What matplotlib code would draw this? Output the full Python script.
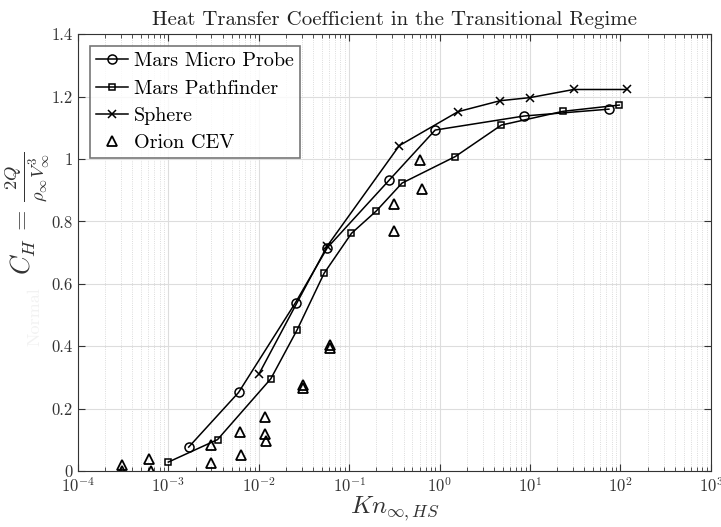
import matplotlib
matplotlib.use("Agg")
import matplotlib.pyplot as plt
from matplotlib.ticker import LogLocator, FixedLocator, NullFormatter

plt.rcParams['font.family'] = 'serif'
plt.rcParams['font.serif'] = ['cmr10']
plt.rcParams['mathtext.fontset'] = 'cm'
plt.rcParams['axes.formatter.use_mathtext'] = True

# Data
mmp_x = [1.68e-3, 5.98e-3, 0.0255, 0.0574, 0.278, 0.893, 8.59, 74.5]
mmp_y = [0.077, 0.252, 0.540, 0.716, 0.933, 1.093, 1.138, 1.160]

mpf_x = [1.0e-3, 3.5e-3, 0.0136, 0.0266, 0.0528, 0.106, 0.20, 0.384, 1.49, 4.82, 23.1, 96.8]
mpf_y = [0.029, 0.101, 0.296, 0.453, 0.634, 0.762, 0.834, 0.923, 1.008, 1.109, 1.153, 1.173]

sph_x = [0.0100, 0.0574, 0.358, 1.60, 4.67, 10.0, 30.4, 118.0]
sph_y = [0.310, 0.722, 1.043, 1.152, 1.187, 1.197, 1.223, 1.223]

cev_x = [3.08e-4, 3.1e-4, 6.12e-4, 6.4e-4, 2.98e-3, 3.0e-3, 6.14e-3, 6.3e-3,
         0.0116, 0.0118, 0.0119, 0.0307, 0.0307, 0.0619, 0.0619, 0.313, 0.313, 0.605, 0.643]
cev_y = [0.021, 0.002, 0.038, 0.002, 0.083, 0.025, 0.125, 0.051,
         0.173, 0.118, 0.096, 0.265, 0.275, 0.393, 0.403, 0.768, 0.857, 0.997, 0.905]

yticks = [0, 0.2, 0.4, 0.6, 0.8, 1.0, 1.2, 1.4]
ytick_labels = ['0', '0.2', '0.4', '0.6', '0.8', '1', '1.2', '1.4']

fig = plt.figure(figsize=(7.21, 5.27), dpi=100)
ax = fig.add_axes([0.108, 0.106, 0.878, 0.829])

ax.plot(mmp_x, mmp_y, '-o', color='black', lw=1.1, ms=6.5, mfc='none', mew=1.1,
        label='Mars Micro Probe')
ax.plot(mpf_x, mpf_y, '-s', color='black', lw=1.1, ms=5, mfc='none', mew=1.1,
        label='Mars Pathfinder')
ax.plot(sph_x, sph_y, '-x', color='black', lw=1.1, ms=6, mew=1.1, label='Sphere')
ax.plot(cev_x, cev_y, '^', color='black', ls='none', ms=7, mfc='none', mew=1.3,
        label='Orion CEV')

ax.set_xscale('log')
ax.set_xlim(1e-4, 1e3)
ax.set_ylim(0, 1.4)
ax.xaxis.set_major_locator(LogLocator(base=10, numticks=20))
ax.xaxis.set_minor_locator(LogLocator(base=10, subs=range(2, 10), numticks=100))
ax.xaxis.set_minor_formatter(NullFormatter())
ax.yaxis.set_major_locator(FixedLocator(yticks))
ax.set_yticklabels(ytick_labels)

ax.grid(which='major', color='#dddddd', lw=0.8, ls='-')
ax.grid(which='minor', axis='x', color='#d0d0d0', lw=0.6, ls=':')
ax.set_axisbelow(True)

ax.tick_params(which='both', direction='in', top=True, right=True, colors='#333333',
               labelcolor='#333333', labelsize=12)
ax.tick_params(which='major', length=5)
ax.tick_params(which='minor', length=3)
for s in ax.spines.values():
    s.set_color('#333333')
    s.set_linewidth(0.8)

ax.set_title('Heat Transfer Coefficient in the Transitional Regime', fontsize=15,
             color='#222222', pad=7)
ax.set_xlabel(r'$Kn_{\infty,HS}$', fontsize=18, color='#333333')
ax.xaxis.set_label_coords(0.5, -0.052)
ax.set_ylabel(r'$C_H\,=\,\frac{2Q}{\rho_\infty V_\infty^3}$', fontsize=19, color='#333333')
ax.yaxis.set_label_coords(-0.043, 0.59)
fig.text(0.048, 0.40, 'Normal', rotation=90, color='#f2f2f2', fontsize=13,
         ha='center', va='center')

leg = ax.legend(loc='upper left', fontsize=14.5, frameon=True, fancybox=False,
                edgecolor='#555555', borderpad=0.3, handlelength=1.6,
                handletextpad=0.3, labelspacing=0.45, borderaxespad=0.6)
leg.get_frame().set_linewidth(1.2)

fig.savefig('out.png', dpi=100)
